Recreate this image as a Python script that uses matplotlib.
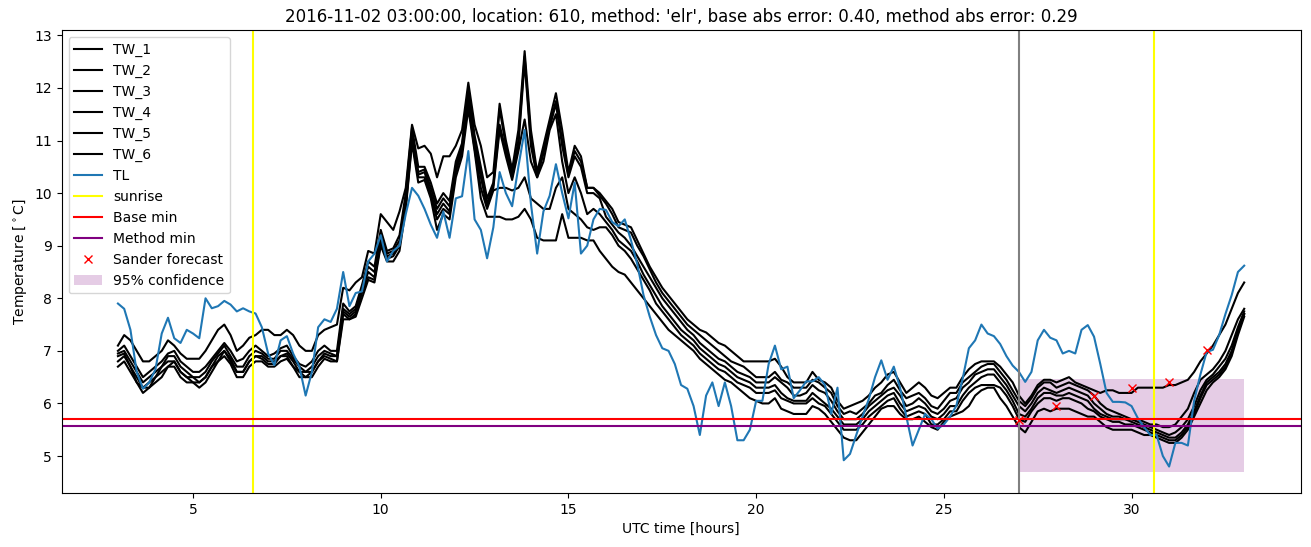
import numpy as np
import matplotlib
matplotlib.use("Agg")
import matplotlib.pyplot as plt

# Data: 10-minute samples from 03:00 (hour 3) to 09:00 next day (hour 33)
tl = [7.9, 7.8, 7.4, 6.6, 6.28, 6.4,
      6.65, 7.33, 7.63, 7.24, 7.15, 7.4,
      7.33, 7.24, 8.0, 7.81, 7.85, 7.95,
      7.88, 7.75, 7.81, 7.75, 7.71, 7.45,
      6.95, 6.73, 7.2, 7.28, 6.95, 6.7,
      6.15, 6.6, 7.45, 7.6, 7.55, 7.8,
      8.5, 7.85, 8.1, 8.13, 8.7, 8.85,
      9.2, 8.7, 8.9, 9.0, 9.6, 10.1,
      9.95, 9.7, 9.4, 9.15, 9.65, 9.15,
      9.9, 9.94, 10.8, 9.5, 9.3, 8.76,
      9.35, 10.4, 10.0, 9.75, 10.5, 11.2,
      9.8, 8.85, 9.65, 9.95, 10.55, 10.0,
      9.52, 10.2, 8.85, 9.0, 9.5, 9.7,
      9.68, 9.45, 9.37, 9.5, 9.1, 8.65,
      8.06, 7.65, 7.3, 7.05, 7.0, 6.75,
      6.35, 6.28, 5.95, 5.4, 6.15, 6.4,
      5.95, 6.4, 5.95, 5.3, 5.3, 5.5,
      6.05, 6.05, 6.75, 7.1, 6.65, 6.7,
      6.1, 6.25, 6.42, 6.42, 6.5, 6.35,
      5.8, 6.3, 4.92, 5.04, 5.4, 5.75,
      6.08, 6.5, 6.82, 6.45, 6.7, 6.3,
      5.75, 5.2, 5.5, 5.8, 5.7, 5.52,
      5.6, 5.75, 5.96, 6.47, 7.05, 7.2,
      7.5, 7.33, 7.28, 7.13, 6.9, 6.72,
      6.6, 6.41, 6.6, 7.2, 7.4, 7.25,
      7.2, 6.95, 7.0, 6.95, 7.4, 7.49,
      7.27, 6.75, 6.2, 6.03, 6.03, 6.02,
      5.95, 5.72, 5.55, 5.4, 5.4, 5.0,
      4.8, 5.25, 5.25, 5.2, 6.05, 6.55,
      6.98, 7.02, 7.3, 7.7, 8.06, 8.5,
      8.62]

tw_1 = [7.1, 7.3, 7.2, 7.0, 6.8, 6.8,
        6.9, 7.0, 7.2, 7.1, 6.95, 6.85,
        6.85, 6.85, 7.0, 7.2, 7.4, 7.5,
        7.3, 7.0, 7.1, 7.25, 7.3, 7.4,
        7.4, 7.3, 7.3, 7.4, 7.3, 7.1,
        7.0, 7.0, 7.3, 7.4, 7.45, 7.5,
        8.2, 8.15, 8.3, 8.4, 8.9, 8.85,
        9.6, 9.45, 9.3, 9.65, 10.1, 11.3,
        10.85, 10.9, 10.75, 10.3, 10.7, 10.7,
        10.9, 11.2, 12.1, 11.3, 10.9, 10.3,
        10.4, 11.7, 11.0, 10.45, 11.2, 12.7,
        11.2, 10.4, 10.9, 11.4, 11.9, 11.2,
        10.4, 10.9, 10.7, 10.1, 10.1, 10.0,
        9.85, 9.7, 9.45, 9.4, 9.35, 9.1,
        8.85, 8.6, 8.4, 8.2, 8.05, 7.9,
        7.75, 7.6, 7.5, 7.4, 7.35, 7.25,
        7.15, 7.1, 7.0, 6.9, 6.8, 6.8,
        6.8, 6.8, 6.8, 6.85, 6.7, 6.5,
        6.4, 6.4, 6.4, 6.6, 6.45, 6.4,
        6.3, 6.05, 5.9, 5.95, 6.0, 6.05,
        6.15, 6.3, 6.4, 6.55, 6.6, 6.4,
        6.2, 6.3, 6.4, 6.3, 6.15, 6.1,
        6.2, 6.3, 6.3, 6.5, 6.65, 6.75,
        6.8, 6.8, 6.8, 6.7, 6.55, 6.4,
        6.15, 6.0, 6.15, 6.35, 6.45, 6.45,
        6.4, 6.45, 6.5, 6.4, 6.35, 6.3,
        6.25, 6.2, 6.25, 6.25, 6.2, 6.2,
        6.2, 6.3, 6.3, 6.3, 6.3, 6.3,
        6.35, 6.35, 6.4, 6.45, 6.6, 6.8,
        6.95, 7.1, 7.3, 7.5, 7.8, 8.1,
        8.3]

tw_2 = [7.0, 7.1, 6.9, 6.7, 6.5, 6.6,
        6.7, 6.8, 6.95, 7.0, 6.8, 6.7,
        6.6, 6.6, 6.7, 6.85, 7.0, 7.15,
        7.0, 6.8, 6.85, 7.0, 7.1, 7.0,
        6.9, 6.95, 7.05, 7.1, 6.9, 6.75,
        6.7, 6.8, 7.0, 7.1, 7.0, 7.0,
        7.9, 7.75, 7.85, 8.25, 8.7, 8.6,
        9.3, 8.9, 8.95, 9.2, 10.0, 11.25,
        10.5, 10.5, 10.2, 9.8, 10.0, 9.85,
        10.6, 10.95, 12.0, 11.1, 10.5, 9.9,
        10.2, 11.6, 10.9, 10.35, 11.0, 12.6,
        11.0, 10.35, 10.8, 11.3, 11.75, 11.0,
        10.35, 10.8, 10.6, 10.1, 10.1, 9.95,
        9.8, 9.6, 9.35, 9.3, 9.25, 9.0,
        8.8, 8.55, 8.3, 8.1, 7.95, 7.8,
        7.65, 7.5, 7.4, 7.3, 7.2, 7.1,
        7.0, 6.9, 6.8, 6.75, 6.7, 6.6,
        6.5, 6.5, 6.5, 6.6, 6.45, 6.4,
        6.3, 6.3, 6.3, 6.45, 6.4, 6.3,
        6.2, 5.95, 5.8, 5.85, 5.8, 5.9,
        6.0, 6.15, 6.2, 6.35, 6.45, 6.25,
        6.1, 6.15, 6.2, 6.1, 5.95, 5.9,
        6.05, 6.2, 6.2, 6.4, 6.5, 6.6,
        6.7, 6.75, 6.75, 6.6, 6.45, 6.25,
        6.05, 5.95, 6.1, 6.3, 6.4, 6.4,
        6.3, 6.35, 6.4, 6.35, 6.3, 6.25,
        6.15, 6.0, 5.9, 5.85, 5.8, 5.75,
        5.7, 5.7, 5.65, 5.6, 5.6, 5.55,
        5.55, 5.6, 5.75, 5.9, 6.2, 6.45,
        6.55, 6.65, 6.8, 7.0, 7.3, 7.6,
        7.8]

tw_3 = [6.95, 7.0, 6.8, 6.6, 6.4, 6.5,
        6.6, 6.7, 6.9, 6.9, 6.7, 6.6,
        6.5, 6.5, 6.6, 6.8, 6.95, 7.1,
        6.9, 6.7, 6.7, 6.9, 7.0, 6.95,
        6.85, 6.85, 7.0, 7.0, 6.85, 6.7,
        6.6, 6.7, 6.9, 7.0, 6.95, 6.9,
        7.8, 7.7, 7.8, 8.2, 8.6, 8.5,
        9.2, 8.85, 8.9, 9.1, 9.9, 11.15,
        10.4, 10.45, 10.1, 9.7, 9.9, 9.75,
        10.5, 10.9, 11.9, 11.0, 10.4, 9.8,
        10.15, 11.3, 10.8, 10.3, 10.9, 12.5,
        10.9, 10.3, 10.75, 11.25, 11.7, 10.9,
        10.3, 10.7, 10.5, 10.0, 10.0, 9.9,
        9.55, 9.4, 9.25, 9.15, 9.0, 8.8,
        8.6, 8.4, 8.2, 8.0, 7.85, 7.7,
        7.55, 7.4, 7.3, 7.15, 7.05, 6.95,
        6.85, 6.8, 6.7, 6.6, 6.55, 6.5,
        6.4, 6.4, 6.4, 6.5, 6.4, 6.3,
        6.15, 6.15, 6.2, 6.35, 6.25, 6.2,
        6.05, 5.85, 5.7, 5.7, 5.7, 5.8,
        5.95, 6.05, 6.15, 6.25, 6.3, 6.15,
        5.95, 6.0, 6.1, 6.0, 5.85, 5.8,
        5.9, 6.05, 6.1, 6.3, 6.4, 6.55,
        6.6, 6.65, 6.65, 6.5, 6.35, 6.15,
        5.95, 5.85, 6.0, 6.2, 6.3, 6.25,
        6.2, 6.25, 6.3, 6.25, 6.2, 6.15,
        6.0, 5.9, 5.8, 5.75, 5.75, 5.7,
        5.7, 5.65, 5.6, 5.55, 5.5, 5.45,
        5.4, 5.45, 5.55, 5.7, 5.95, 6.25,
        6.45, 6.55, 6.7, 6.85, 7.1, 7.45,
        7.75]

tw_4 = [6.9, 6.95, 6.7, 6.5, 6.3, 6.4,
        6.5, 6.7, 6.8, 6.8, 6.6, 6.5,
        6.5, 6.4, 6.5, 6.7, 6.9, 7.0,
        6.85, 6.6, 6.6, 6.8, 6.9, 6.9,
        6.8, 6.8, 6.9, 6.95, 6.8, 6.6,
        6.6, 6.6, 6.8, 6.95, 6.9, 6.9,
        7.75, 7.65, 7.75, 8.15, 8.5, 8.4,
        9.1, 8.8, 8.85, 9.0, 9.8, 11.1,
        10.35, 10.4, 10.0, 9.6, 9.8, 9.65,
        10.45, 10.85, 11.8, 10.9, 10.3, 9.75,
        10.1, 11.2, 10.7, 10.25, 10.8, 11.4,
        10.6, 10.3, 10.6, 11.2, 11.5, 10.6,
        10.0, 10.3, 10.0, 9.6, 9.7, 9.6,
        9.45, 9.3, 9.1, 9.0, 8.9, 8.7,
        8.45, 8.25, 8.05, 7.85, 7.7, 7.55,
        7.4, 7.3, 7.2, 7.05, 6.95, 6.85,
        6.75, 6.7, 6.6, 6.5, 6.45, 6.4,
        6.3, 6.3, 6.3, 6.35, 6.2, 6.1,
        6.05, 6.05, 6.05, 6.2, 6.1, 6.0,
        5.9, 5.75, 5.6, 5.6, 5.6, 5.7,
        5.85, 5.95, 6.05, 6.15, 6.2, 6.0,
        5.85, 5.9, 5.95, 5.9, 5.75, 5.7,
        5.8, 5.95, 5.95, 6.15, 6.3, 6.4,
        6.5, 6.55, 6.55, 6.4, 6.25, 6.05,
        5.8, 5.75, 5.9, 6.1, 6.2, 6.2,
        6.15, 6.15, 6.2, 6.15, 6.1, 6.05,
        5.9, 5.8, 5.75, 5.7, 5.7, 5.7,
        5.65, 5.6, 5.55, 5.5, 5.45, 5.4,
        5.35, 5.35, 5.45, 5.6, 5.85, 6.15,
        6.4, 6.5, 6.6, 6.75, 7.0, 7.4,
        7.7]

tw_5 = [6.8, 6.9, 6.7, 6.4, 6.3, 6.3,
        6.5, 6.6, 6.7, 6.8, 6.6, 6.5,
        6.4, 6.4, 6.5, 6.7, 6.8, 7.0,
        6.8, 6.6, 6.6, 6.8, 6.9, 6.85,
        6.75, 6.75, 6.9, 6.9, 6.7, 6.6,
        6.5, 6.6, 6.8, 6.9, 6.85, 6.8,
        7.7, 7.6, 7.7, 8.1, 8.4, 8.35,
        9.05, 8.75, 8.8, 9.0, 9.75, 11.0,
        10.3, 10.3, 9.95, 9.5, 9.7, 9.6,
        10.4, 10.8, 11.7, 10.85, 10.1, 9.7,
        10.05, 10.1, 10.1, 10.05, 10.1, 10.3,
        9.9, 9.8, 9.7, 9.7, 10.1, 10.3,
        9.7, 9.6, 9.5, 9.35, 9.3, 9.35,
        9.35, 9.2, 9.0, 8.9, 8.75, 8.55,
        8.35, 8.15, 7.9, 7.75, 7.6, 7.45,
        7.3, 7.2, 7.1, 6.95, 6.85, 6.75,
        6.65, 6.6, 6.5, 6.4, 6.35, 6.3,
        6.2, 6.2, 6.2, 6.25, 6.1, 6.05,
        6.0, 6.0, 6.0, 6.1, 6.0, 5.95,
        5.8, 5.65, 5.5, 5.5, 5.5, 5.6,
        5.75, 5.85, 5.95, 6.05, 6.1, 5.9,
        5.75, 5.8, 5.85, 5.8, 5.6, 5.6,
        5.7, 5.85, 5.85, 6.05, 6.2, 6.3,
        6.35, 6.35, 6.35, 6.3, 6.15, 5.95,
        5.7, 5.65, 5.85, 6.0, 6.1, 6.1,
        6.05, 6.1, 6.1, 6.05, 6.0, 5.9,
        5.85, 5.75, 5.7, 5.65, 5.65, 5.6,
        5.6, 5.55, 5.5, 5.45, 5.4, 5.35,
        5.3, 5.3, 5.4, 5.55, 5.8, 6.1,
        6.35, 6.45, 6.55, 6.7, 6.95, 7.35,
        7.7]

tw_6 = [6.7, 6.8, 6.6, 6.4, 6.2, 6.3,
        6.4, 6.5, 6.7, 6.7, 6.5, 6.4,
        6.4, 6.3, 6.4, 6.6, 6.8, 6.9,
        6.75, 6.5, 6.5, 6.7, 6.8, 6.8,
        6.7, 6.7, 6.8, 6.85, 6.7, 6.5,
        6.5, 6.5, 6.7, 6.85, 6.8, 6.8,
        7.6, 7.6, 7.65, 8.0, 8.35, 8.3,
        9.0, 8.7, 8.7, 8.9, 9.7, 10.95,
        10.2, 10.25, 9.9, 9.3, 9.6, 9.5,
        10.3, 10.7, 11.6, 10.8, 9.9, 9.55,
        9.55, 9.55, 9.5, 9.5, 9.55, 9.7,
        9.5, 9.15, 9.1, 9.1, 9.1, 9.6,
        9.15, 9.15, 9.15, 9.1, 9.1, 8.9,
        8.75, 8.6, 8.5, 8.45, 8.3, 8.15,
        8.0, 7.85, 7.7, 7.55, 7.4, 7.3,
        7.2, 7.1, 7.0, 6.85, 6.75, 6.65,
        6.55, 6.45, 6.4, 6.3, 6.2, 6.1,
        6.05, 6.0, 6.0, 6.1, 5.9, 5.85,
        5.8, 5.8, 5.8, 5.95, 5.9, 5.8,
        5.65, 5.5, 5.35, 5.3, 5.3, 5.45,
        5.6, 5.75, 5.9, 5.95, 5.95, 5.8,
        5.7, 5.7, 5.75, 5.65, 5.55, 5.5,
        5.65, 5.75, 5.8, 5.85, 5.95, 6.15,
        6.25, 6.3, 6.3, 6.1, 5.95, 5.75,
        5.55, 5.45, 5.65, 5.85, 5.9, 5.85,
        5.9, 5.9, 5.9, 5.85, 5.8, 5.75,
        5.75, 5.65, 5.55, 5.5, 5.5, 5.5,
        5.5, 5.45, 5.4, 5.4, 5.35, 5.3,
        5.25, 5.25, 5.35, 5.5, 5.75, 6.0,
        6.25, 6.4, 6.5, 6.65, 6.9, 7.3,
        7.65]

tw_series = [tw_1, tw_2, tw_3, tw_4, tw_5, tw_6]
tw_labels = ['TW_1', 'TW_2', 'TW_3', 'TW_4', 'TW_5', 'TW_6']

sunrise_hours = [6.61, 30.61]
forecast_hour = 27.0
base_min = 5.70
method_min = 5.58

sander_hours = [27, 28, 29, 30, 31, 32]
sander_temps = [5.68, 5.96, 6.15, 6.29, 6.41, 7.01]

conf_hours = [27.0, 33.0]
conf_low = 4.70
conf_high = 6.47

fig, ax = plt.subplots(figsize=(13.11, 5.47), dpi=100)

for vals, lab in zip(tw_series, tw_labels):
    ax.plot(np.linspace(3, 33, len(vals)), vals, color='black', label=lab)

ax.plot(np.linspace(3, 33, len(tl)), tl, color='tab:blue', label='TL')

for i, h in enumerate(sunrise_hours):
    ax.axvline(h, color='yellow', label='sunrise' if i == 0 else None)

ax.axhline(base_min, color='red', label='Base min')
ax.axhline(method_min, color='purple', label='Method min')
ax.axvline(forecast_hour, color='grey')

ax.plot(sander_hours, sander_temps, 'rx', label='Sander forecast')

ax.fill_between(conf_hours, conf_low, conf_high, color='purple', alpha=0.2,
                linewidth=0, label='95% confidence')

ax.set_xlabel('UTC time [hours]')
ax.set_ylabel('Temperature [$^\\circ$C]')
ax.set_title("2016-11-02 03:00:00, location: 610, method: 'elr', "
             "base abs error: 0.40, method abs error: 0.29")
ax.legend(loc='upper left')

plt.subplots_adjust(left=0.047, right=0.992, bottom=0.099, top=0.945)
plt.savefig('out.png', dpi=100)
